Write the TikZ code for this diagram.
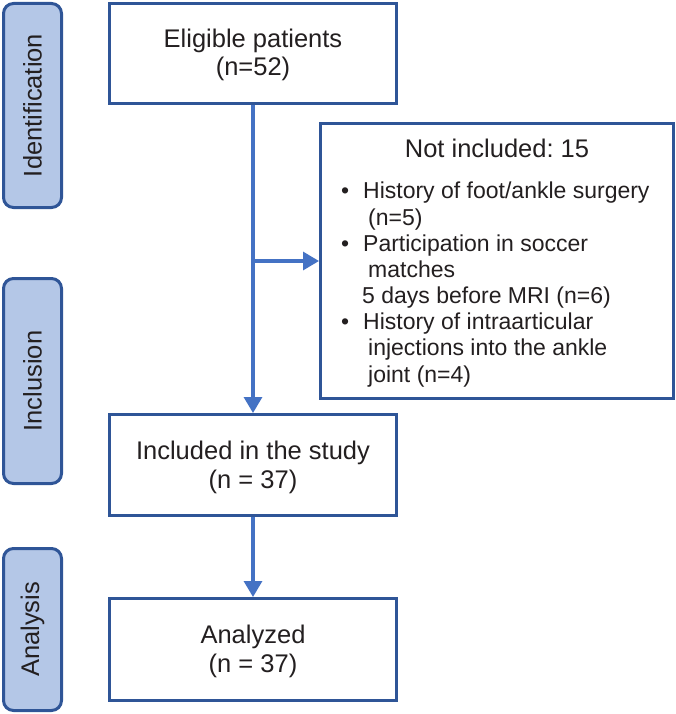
\documentclass[tikz,border=0pt]{standalone}
\usepackage{fontspec}
\setmainfont{Liberation Sans}
\usetikzlibrary{arrows.meta}
\definecolor{boxblue}{HTML}{2F5597}
\definecolor{linkblue}{HTML}{4472C4}
\definecolor{sidefill}{HTML}{B4C7E7}
\definecolor{txt}{HTML}{231F20}
\frenchspacing
\tikzset{
  mainbox/.style={draw=boxblue, line width=3pt, fill=white, inner sep=0pt},
  boxtext/.style={anchor=base, inner sep=0pt, text=txt, font=\fontsize{25.5}{28.5}\selectfont},
  sidebox/.style={draw=boxblue, line width=3pt, fill=sidefill, rounded corners=10pt,
    inner sep=0pt, minimum width=58pt},
  sidelabel/.style={rotate=90, text=txt, font=\fontsize{25.5}{28}\selectfont, inner sep=0pt},
  listline/.style={anchor=base west, inner sep=0pt, text=txt, font=\fontsize{23}{26}\selectfont},
  flow/.style={draw=linkblue, line width=3.2pt, -{Triangle[length=16pt,width=18pt]}}
}
\begin{document}
\begin{tikzpicture}[x=1pt, y=-1pt]
\useasboundingbox (0,0) rectangle (676,714);
% side phase boxes
\node[sidebox, minimum height=204pt] (sid) at (32.5,105.5) {};
\node[sidelabel] (sidl) at (sid.center) {Identification};
\node[sidebox, minimum height=205pt] (sinc) at (32.5,381) {};
\node[sidelabel] (sincl) at (sinc.center) {Inclusion};
\node[sidebox, minimum height=162pt] (san) at (32.5,629.5) {};
\node[sidelabel] (sanl) at (san.center) {Analysis};
% main boxes
\node[mainbox, minimum width=287pt, minimum height=100pt] (elig) at (253,53.5) {};
\node[boxtext] (elig1) at (253,48) {Eligible patients};
\node[boxtext] (elig2) at (253,75.5) {(n=52)};
\node[mainbox, minimum width=287pt, minimum height=101pt] (incl) at (253,465) {};
\node[boxtext] (incl1) at (253,459.5) {Included in the study};
\node[boxtext] (incl2) at (253,488) {(n = 37)};
\node[mainbox, minimum width=287pt, minimum height=102pt] (anal) at (253,649.5) {};
\node[boxtext] (anal1) at (253,643.5) {Analyzed};
\node[boxtext] (anal2) at (253,672) {(n = 37)};
\node[mainbox, minimum width=353pt, minimum height=275pt] (notinc) at (497,261) {};
% not included contents
\node[boxtext] (nttl) at (497,158) {Not included: 15};
\node[listline] (l1) at (341,198) {\makebox[22pt][l]{\textbullet}History of foot/ankle surgery};
\node[listline] (l2) at (368,225) {(n=5)};
\node[listline] (l3) at (341,251) {\makebox[22pt][l]{\textbullet}Participation in soccer};
\node[listline] (l4) at (368,277) {matches};
\node[listline] (l5) at (362,303) {5 days before MRI (n=6)};
\node[listline] (l6) at (341,329) {\makebox[22pt][l]{\textbullet}History of intraarticular};
\node[listline] (l7) at (368,355) {injections into the ankle};
\node[listline] (l8) at (368,382) {joint (n=4)};
% connectors
\coordinate (branch) at (elig.south |- notinc.west);
\draw[flow] (elig.south) -- (incl.north);
\draw[flow] (branch) -- (notinc.west);
\draw[flow] (incl.south) -- (anal.north);
\end{tikzpicture}
\end{document}
